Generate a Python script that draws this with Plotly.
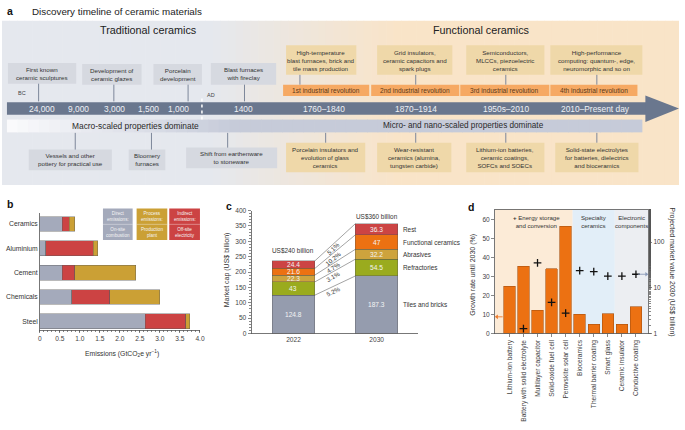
import math
import plotly.graph_objects as go

W, H = 685, 430
FONT = "Liberation Sans, Arial, sans-serif"
TXT = "#333333"
AX = "#555555"

# ---------------- data ----------------
# panel a (timeline texts)
a_title = "Discovery timeline of ceramic materials"
a_eras = ["Traditional ceramics", "Functional ceramics"]
a_dates = ["24,000", "9,000", "3,000", "1,500", "1,000", "1400",
           "1760\u20131840", "1870\u20131914", "1950s\u20132010", "2010\u2013Present day"]
a_revolutions = ["1st industrial revolution", "2nd industrial revolution",
                 "3rd industrial revolution", "4th industrial revolution"]
a_upper = ["First known<br>ceramic sculptures", "Development of<br>ceramic glazes",
           "Porcelain<br>development", "Blast furnaces<br>with fireclay",
           "High-temperature<br>blast furnaces, brick and<br>tile mass production",
           "Grid insulators,<br>ceramic capacitors and<br>spark plugs",
           "Semiconductors,<br>MLCCs, piezoelectric<br>ceramics",
           "High-performance<br>computing: quantum-, edge,<br>neuromorphic and so on"]
a_lower = ["Vessels and other<br>pottery for practical use", "Bloomery<br>furnaces",
           "Shift from earthenware<br>to stoneware",
           "Porcelain insulators and<br>evolution of glass<br>ceramics",
           "Wear-resistant<br>ceramics (alumina,<br>tungsten carbide)",
           "Lithium-ion batteries,<br>ceramic coatings,<br>SOFCs and SOECs",
           "Solid-state electrolytes<br>for batteries, dielectrics<br>and bioceramics"]
a_bands = ["Macro-scaled properties dominate", "Micro- and nano-scaled properties dominate"]

# panel b
b_categories = ["Ceramics", "Aluminium", "Cement", "Chemicals", "Steel"]
b_direct = [0.56, 0.14, 0.56, 0.80, 2.63]
b_indirect = [0.17, 1.19, 0.31, 0.95, 1.01]
b_process = [0.14, 0.11, 1.53, 1.24, 0.11]
b_ticks = [0, 0.5, 1.0, 1.5, 2.0, 2.5, 3.0, 3.5, 4.0]
b_ticktext = ["0", "0.5", "1.0", "1.5", "2.0", "2.5", "3.0", "3.5", "4.0"]
b_legend = [("Direct<br>emissions:", "On-site<br>combustion"),
            ("Process<br>emissions:", "Production<br>plant"),
            ("Indirect<br>emissions:", "Off-site<br>electricity")]

# panel c
c_years = ["2022", "2030"]
c_segments = ["Tiles and bricks", "Refractories", "Abrasives", "Functional ceramics", "Rest"]
c_2022 = [124.8, 43, 22.3, 21.6, 24.4]
c_2030 = [187.3, 54.5, 32.2, 47, 36.3]
c_cagr = ["5.2%", "3.1%", "4.7%", "10.2%", "5.1%"]
c_totals = ["US$240 billion", "US$360 billion"]

# panel d
d_categories = ["Lithium-ion battery", "Battery with solid electrolyte", "Multilayer capacitor",
                "Solid-oxide fuel cell", "Perovskite solar cell", "Bioceramics",
                "Thermal barrier coating", "Smart glass", "Ceramic insulator", "Conductive coating"]
d_growth = [25.0, 35.4, 12.3, 34.2, 56.5, 10.2, 5.0, 10.4, 5.0, 14.1]
d_value = [None, 1.28, 35, 4.8, 2.8, 23.8, 22.6, 18, 18, 19.8]
d_groups = ["<b>+</b> Energy storage<br>and conversion", "Specialty<br>ceramics", "Electronic<br>components"]
d_group_sizes = [5, 3, 2]
d_overall_growth = 8.8
d_overall_value = 19.8

# ---------------- colours ----------------
C_GREY = "#a4aabb"
C_RED = "#cc4343"
C_GOLD = "#cba035"
C_TILE = "#959cae"
C_REFR = "#9aab1e"
C_ABR = "#cda33d"
C_FUNC = "#ec7112"
C_REST = "#cc4444"

fig = go.Figure()


def fx(x):
    return x / W


def fy(y):
    return 1 - y / H


def rect(x0, y0, x1, y1, fill, line=None, lw=0, layer="below"):
    fig.add_shape(type="rect", xref="paper", yref="paper", x0=fx(x0), x1=fx(x1),
                  y0=fy(y1), y1=fy(y0), fillcolor=fill,
                  line=dict(width=lw, color=line if line else fill), layer=layer)


def vline(x, y0, y1, color="#7d879a", width=1, dash=None):
    fig.add_shape(type="line", xref="paper", yref="paper", x0=fx(x), x1=fx(x),
                  y0=fy(y0), y1=fy(y1), line=dict(color=color, width=width, dash=dash))


def text(x, y, s, size=6.3, color=TXT, xanchor="center", yanchor="middle", angle=0, align="center"):
    fig.add_annotation(x=fx(x), y=fy(y), xref="paper", yref="paper", text=s, showarrow=False,
                       font=dict(size=size, color=color, family=FONT), xanchor=xanchor,
                       yanchor=yanchor, textangle=angle, align=align)


def mix(c1, c2, t):
    a = [int(c1[i:i + 2], 16) for i in (1, 3, 5)]
    b = [int(c2[i:i + 2], 16) for i in (1, 3, 5)]
    return "#" + "".join(f"{round(a[k] + (b[k] - a[k]) * t):02x}" for k in range(3))


# ---------------- panel a ----------------
n = 90
for i in range(n):
    x0 = i * W / n
    x1 = (i + 1) * W / n + 0.6
    xc = (x0 + x1) / 2
    t = min(max((xc - 210) / 190, 0), 1)
    rect(x0, 17, min(x1, 684), 184, mix("#e5e8ee", "#f9e4c8", t))

text(3, 7, "<b>a</b>", size=10.5, color="#111", xanchor="left")
text(28, 8, a_title, size=9.8, color="#222", xanchor="left")
text(148, 26, a_eras[0], size=10.8, color="#222")
text(484, 26, a_eras[1], size=10.8, color="#222")

BOX_T = "#d6d9e0"
BOX_F = "#efd8a9"
upper_geo = [(6, 60, 75, 81, 37, BOX_T), (81, 61, 141, 82, 113, BOX_T), (153, 61, 202, 82, 188, BOX_T),
             (211, 60, 277, 82, 245, BOX_T), (287, 42, 358, 72, 301, BOX_F), (379, 42, 455, 72, 418, BOX_F),
             (469, 42, 548, 72, 509, BOX_F), (554, 42, 647, 72, 601, BOX_F)]
for (x0, y0, x1, y1, lx, col), s in zip(upper_geo, a_upper):
    rect(x0, y0, x1, y1, col)
    text((x0 + x1) / 2, (y0 + y1) / 2, s, size=6.2)
    vline(lx, y1, 99 if col == BOX_T else 82)

lower_geo = [(27, 148, 111, 169, 74, BOX_T), (128, 148, 165, 169, 151, BOX_T), (186, 146, 278, 167, 228, BOX_T),
             (287, 141, 367, 171, 327, BOX_F), (379, 141, 454, 171, 418, BOX_F), (469, 141, 548, 171, 509, BOX_F),
             (559, 141, 643, 171, 601, BOX_F)]
for (x0, y0, x1, y1, lx, col), s in zip(lower_geo, a_lower):
    rect(x0, y0, x1, y1, col)
    text((x0 + x1) / 2, (y0 + y1) / 2, s, size=6.2)
    vline(lx, 131, y0)

rev_geo = [(284, 371), (373, 462), (463, 553), (554, 642)]
for (x0, x1), s in zip(rev_geo, a_revolutions):
    rect(x0, 82, x1, 93.5, "#f6a963")
    text((x0 + x1) / 2, 88, s, size=6.6, color="#5b3a1a")

ARROW = "#6a778e"
rect(5, 100, 651, 112.5, ARROW)
fig.add_shape(type="path", xref="paper", yref="paper",
              path=f"M {fx(650)} {fy(93)} L {fx(684)} {fy(106.3)} L {fx(650)} {fy(120)} Z",
              fillcolor=ARROW, line=dict(width=0))
vline(202, 96, 118, color="white", width=1.5, dash="dot")
date_x = [40, 77, 114, 148, 178, 244, 325, 418, 509, 600]
for x, s in zip(date_x, a_dates):
    text(x, 106.5, s, size=8.4, color="#eef0f4")
text(20, 90, "BC", size=5.5, color="#444")
text(211, 92, "AD", size=5.5, color="#444")

m = 60
for i in range(m):
    x0 = 5 + i * (647 - 5) / m
    x1 = 5 + (i + 1) * (647 - 5) / m + 0.6
    t = min(max(((x0 + x1) / 2 - 5) / 230, 0), 1)
    rect(x0, 117.5, min(x1, 647), 130.5, mix("#fbfbfd", "#c6cbd9", t))
text(134.5, 124, a_bands[0], size=8.4, color="#2a2a2a")
text(466, 124, a_bands[1], size=8.2, color="#2a2a2a")

# ---------------- panel b ----------------
text(3, 203, "<b>b</b>", size=10.5, color="#111", xanchor="left")
for name, vals, col in [("Direct", b_direct, C_GREY), ("Indirect", b_indirect, C_RED),
                        ("Process", b_process, C_GOLD)]:
    fig.add_trace(go.Bar(x=vals, y=b_categories, orientation="h", marker=dict(color=col,
                  line=dict(color="rgba(90,90,90,0.7)", width=0.6)), width=0.61,
                  xaxis="x", yaxis="y", name=name, hoverinfo="skip"))

leg_geo = [(102, 132, C_GREY), (136, 167, C_GOLD), (169, 200, C_RED)]
for (x0, x1, col), (t1, t2) in zip(leg_geo, b_legend):
    rect(x0, 208, x1, 240, col)
    fig.add_shape(type="line", xref="paper", yref="paper", x0=fx(x0), x1=fx(x1), y0=fy(224), y1=fy(224),
                  line=dict(color="rgba(255,255,255,0.6)", width=0.6))
    text((x0 + x1) / 2, 216, t1, size=4.6, color="#f4f4f4")
    text((x0 + x1) / 2, 232, t2, size=4.6, color="#f4f4f4")
text(121, 355, "Emissions (GtCO<sub>2</sub>e yr<sup>\u22121</sup>)", size=6.8)

# ---------------- panel c ----------------
text(224, 205, "<b>c</b>", size=10.5, color="#111", xanchor="left")
cw = 0.512
c_colors = [C_TILE, C_REFR, C_ABR, C_FUNC, C_REST]
for i, seg in enumerate(c_segments):
    vals = [c_2022[i], c_2030[i]]
    fig.add_trace(go.Bar(x=[0, 1], y=vals, width=cw, marker=dict(color=c_colors[i],
                  line=dict(color="rgba(80,80,80,0.6)", width=0.6)),
                  xaxis="x2", yaxis="y2", name=seg, hoverinfo="skip"))

cum22, cum30 = [], []
s22 = s30 = 0
for a, b in zip(c_2022, c_2030):
    s22 += a
    s30 += b
    cum22.append(s22)
    cum30.append(s30)

for j, (vals, cums) in enumerate([(c_2022, cum22), (c_2030, cum30)]):
    for v, cu in zip(vals, cums):
        fig.add_annotation(x=j, y=cu - v / 2, xref="x2", yref="y2", text=f"{v:g}", showarrow=False,
                           font=dict(size=6.6, color="#f4f4f4", family=FONT))

xa, xb = cw / 2, 1 - cw / 2
pxu = 84.0
pyu = 125 / 400
for i in range(len(c_segments)):
    fig.add_shape(type="line", xref="x2", yref="y2", x0=xa, x1=xb, y0=cum22[i], y1=cum30[i],
                  line=dict(color="#666", width=0.6))
for i in range(len(c_segments)):
    t = 0.45
    xx = xa + (xb - xa) * t
    ytop = cum22[i] + (cum30[i] - cum22[i]) * t
    if i > 0:
        ylow = cum22[i - 1] + (cum30[i - 1] - cum22[i - 1]) * t
        off = min((ytop - ylow) / 2, 16)
    else:
        off = 16
    ang = -math.degrees(math.atan2((cum30[i] - cum22[i]) * pyu, (xb - xa) * pxu))
    fig.add_annotation(x=xx, y=ytop - off, xref="x2", yref="y2", text=c_cagr[i], showarrow=False,
                       textangle=ang, font=dict(size=6.2, color=TXT, family=FONT))
for i, s in enumerate(c_segments):
    ymid = cum30[i] - c_2030[i] / 2
    fig.add_annotation(x=1 + cw / 2, y=ymid, xref="x2", yref="y2", text=s, showarrow=False,
                       xanchor="left", xshift=3, font=dict(size=6.4, color=TXT, family=FONT))
for j, (tot, sh) in enumerate(zip([cum22[-1], cum30[-1]], [5, 2])):
    fig.add_annotation(x=j, y=tot, xref="x2", yref="y2", text=c_totals[j], showarrow=False,
                       yanchor="bottom", yshift=sh, font=dict(size=6.4, color=TXT, family=FONT))
text(227, 270, "Market cap (US$ billion)", size=7, angle=-90)

# ---------------- panel d ----------------
text(469, 206, "<b>d</b>", size=10.5, color="#111", xanchor="left")
d_x = list(range(len(d_categories)))
d_range = [-1.03, 9.88]
grp_cols = ["#fcebd7", "#e2eef8", "#eceef2"]
start = d_range[0]
acc = 0
for g, (name, size) in enumerate(zip(d_groups, d_group_sizes)):
    acc += size
    end = acc - 0.5 if g < len(d_groups) - 1 else d_range[1]
    fig.add_shape(type="rect", xref="x3", yref="y3 domain", x0=start, x1=end, y0=0, y1=1,
                  fillcolor=grp_cols[g], line=dict(width=0), layer="below")
    cx = (start + end) / 2 if g > 0 else (start + end) / 2 + 0.2
    fig.add_annotation(x=cx, y=1, xref="x3", yref="y3 domain", yanchor="top", yshift=-2,
                       text=name, showarrow=False, font=dict(size=6.1, color=TXT, family=FONT))
    start = end

fig.add_trace(go.Bar(x=d_x, y=d_growth, width=0.82, marker=dict(color=C_FUNC,
              line=dict(color="#a85210", width=0.6)), xaxis="x3", yaxis="y3", hoverinfo="skip"))
fig.add_trace(go.Scatter(x=d_x, y=d_value, mode="markers", xaxis="x3", yaxis="y4",
              marker=dict(symbol="cross-thin", size=5.5, line=dict(width=1.3, color="#111")),
              hoverinfo="skip"))

ax_left = d_range[0]
ax_right = d_range[1]
fig.add_trace(go.Scatter(x=[ax_left + 0.12, ax_left + 0.55], y=[d_overall_growth] * 2, mode="lines",
                         line=dict(color="#ee7a2a", width=0.9), xaxis="x3", yaxis="y3", hoverinfo="skip"))
fig.add_trace(go.Scatter(x=[ax_left + 0.14], y=[d_overall_growth], mode="markers",
                         marker=dict(symbol="triangle-left", size=4, color="#ee7a2a"),
                         xaxis="x3", yaxis="y3", hoverinfo="skip"))
fig.add_trace(go.Scatter(x=[ax_right - 0.75, ax_right - 0.12], y=[d_overall_value] * 2, mode="lines",
                         line=dict(color="#8a9ab8", width=0.9), xaxis="x3", yaxis="y4", hoverinfo="skip"))
fig.add_trace(go.Scatter(x=[ax_right - 0.14], y=[d_overall_value], mode="markers",
                         marker=dict(symbol="triangle-right", size=4, color="#8a9ab8"),
                         xaxis="x3", yaxis="y4", hoverinfo="skip"))

text(475, 275, "Growth rate until 2030 (%)", size=7, angle=-90)
text(677, 272, "Projected market value 2030 (US$ billion)", size=7, angle=90)

# ---------------- axes ----------------
axis_common = dict(showgrid=False, zeroline=False, linecolor=AX, linewidth=0.8, showline=True,
                   tickfont=dict(size=6.6, color="#444", family=FONT), tickcolor=AX,
                   tickwidth=0.7, ticklen=3)

fig.update_layout(
    width=W, height=H, margin=dict(l=0, r=0, t=0, b=0),
    paper_bgcolor="white", plot_bgcolor="rgba(0,0,0,0)",
    barmode="stack", showlegend=False, hovermode=False,
    font=dict(family=FONT, color=TXT),
    xaxis=dict(domain=[fx(38.3), fx(200)], anchor="y", range=[0, 4], tickvals=b_ticks,
               ticktext=b_ticktext, ticks="outside",
               minor=dict(dtick=0.1, ticks="outside", ticklen=2, tickcolor=AX), **axis_common),
    yaxis=dict(domain=[fy(331), fy(212)], anchor="x", type="category", range=[4.34, -0.47],
               ticks="", tickfont=dict(size=6.8, color=TXT, family=FONT),
               **{k: v for k, v in axis_common.items() if k != "tickfont"}),
    xaxis2=dict(domain=[fx(252), fx(420)], anchor="y2", range=[-0.506, 1.494], tickvals=[0, 1],
                ticktext=c_years, ticks="", **axis_common),
    yaxis2=dict(domain=[fy(335), fy(210)], anchor="x2", range=[0, 400], dtick=50, ticks="outside",
                minor=dict(dtick=10, ticks="outside", ticklen=2, tickcolor=AX), **axis_common),
    xaxis3=dict(domain=[fx(498), fx(653)], anchor="y3", range=d_range, tickvals=d_x,
                ticktext=d_categories, tickangle=-90, ticks="outside", mirror=True, **axis_common),
    yaxis3=dict(domain=[fy(335), fy(209)], anchor="x3", range=[0, 65.2], dtick=10, ticks="outside",
                **axis_common),
    yaxis4=dict(overlaying="y3", side="right", anchor="x3", type="log", range=[0, 2.71],
                tickvals=[1, 10, 100], ticktext=["1", "10", "100"], ticks="outside",
                minor=dict(ticks="outside", ticklen=2, tickcolor=AX, showgrid=False), **axis_common),
)

fig.write_html("out.html", config={"displayModeBar": False, "staticPlot": True},
               post_script="document.body.style.margin='0px';")
